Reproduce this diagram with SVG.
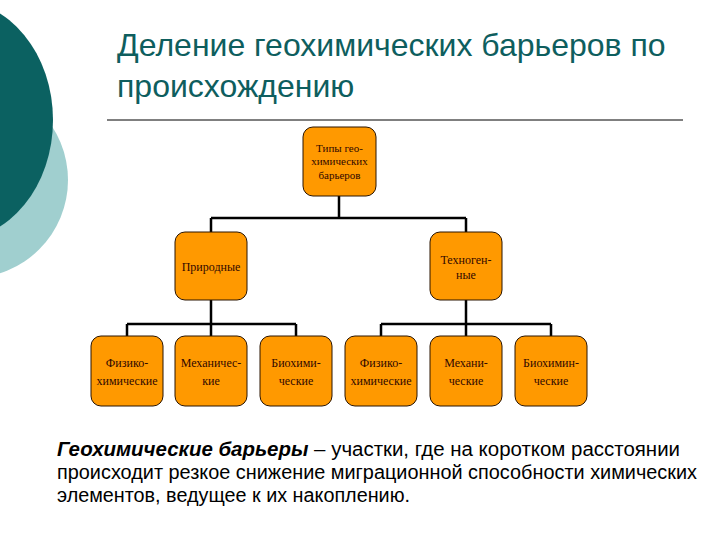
<svg xmlns="http://www.w3.org/2000/svg" width="720" height="540" viewBox="0 0 720 540">
<style>
.box{fill:#FF9900;stroke:#2a1400;stroke-width:1}
.bt{font-family:"Liberation Serif",serif;font-size:12px;fill:#300800;text-anchor:middle}
.bt.s{font-size:11px}
.con{stroke:#000;stroke-width:2.5;fill:none}
.title{font-family:"Liberation Sans",Arial,sans-serif;font-size:32px;fill:#0E5E5E}
.body{font-family:"Liberation Sans",Arial,sans-serif;font-size:20px;fill:#000}
</style>
<rect width="720" height="540" fill="#fff"/>
<g id="decor">
<circle cx="-30" cy="180" r="98" fill="#A0CFCF"/>
<ellipse cx="-45" cy="120" rx="98" ry="120" fill="#0B6161"/>
</g>
<g id="title">
<text class="title" x="117" y="56">Деление геохимических барьеров по</text>
<text class="title" x="117" y="97">происхождению</text>
<line x1="107" y1="120" x2="683" y2="120" stroke="#000" stroke-width="1"/>
</g>
<g id="connectors">
<path class="con" d="M339 196 V218 M211 218 H466 M211 218 V232 M466 218 V232"/>
<path class="con" d="M211 300 V324 M127 324 H296 M127 324 V336 M211 324 V336 M296 324 V336"/>
<path class="con" d="M466 300 V324 M381 324 H551 M381 324 V336 M466 324 V336 M551 324 V336"/>
</g>
<g id="n-root">
<rect class="box" x="303" y="127" width="73" height="69" rx="10"/>
<text class="bt s" x="339.5" y="152">Типы гео-</text>
<text class="bt s" x="339.5" y="165">химических</text>
<text class="bt s" x="339.5" y="179">барьеров</text>
</g>
<g id="n-nat">
<rect class="box" x="175" y="232" width="72" height="68" rx="10"/>
<text class="bt" x="211" y="271">Природные</text>
</g>
<g id="n-tech">
<rect class="box" x="430" y="232" width="72" height="68" rx="10"/>
<text class="bt" x="466" y="264">Техноген-</text>
<text class="bt" x="466" y="279">ные</text>
</g>
<g id="n-b1">
<rect class="box" x="91" y="336" width="72" height="70" rx="10"/>
<text class="bt" x="127" y="367">Физико-</text>
<text class="bt" x="127" y="385">химические</text>
</g>
<g id="n-b2">
<rect class="box" x="175" y="336" width="72" height="70" rx="10"/>
<text class="bt" x="211" y="367">Механичес-</text>
<text class="bt" x="211" y="385">кие</text>
</g>
<g id="n-b3">
<rect class="box" x="260" y="336" width="72" height="70" rx="10"/>
<text class="bt" x="296" y="367">Биохими-</text>
<text class="bt" x="296" y="385">ческие</text>
</g>
<g id="n-b4">
<rect class="box" x="345" y="336" width="72" height="70" rx="10"/>
<text class="bt" x="381" y="367">Физико-</text>
<text class="bt" x="381" y="385">химические</text>
</g>
<g id="n-b5">
<rect class="box" x="430" y="336" width="72" height="70" rx="10"/>
<text class="bt" x="466" y="367">Механи-</text>
<text class="bt" x="466" y="385">ческие</text>
</g>
<g id="n-b6">
<rect class="box" x="515" y="336" width="72" height="70" rx="10"/>
<text class="bt" x="551" y="367">Биохимин-</text>
<text class="bt" x="551" y="385">ческие</text>
</g>
<g id="definition">
<text class="body" x="57" y="456" textLength="623" lengthAdjust="spacingAndGlyphs"><tspan font-weight="bold" font-style="italic">Геохимические барьеры</tspan> – участки, где на коротком расстоянии</text>
<text class="body" x="57" y="479" textLength="640" lengthAdjust="spacingAndGlyphs">происходит резкое снижение миграционной способности химических</text>
<text class="body" x="57" y="502" textLength="353" lengthAdjust="spacingAndGlyphs">элементов, ведущее к их накоплению.</text>
</g>
</svg>
